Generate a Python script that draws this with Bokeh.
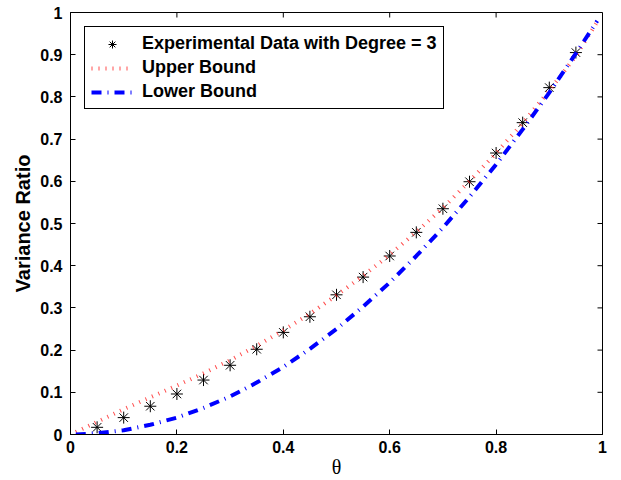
import math
from bokeh.plotting import figure
from bokeh.models import FixedTicker, Range1d
from bokeh.embed import file_html
from bokeh.resources import INLINE

# ---- data ----
theta_data = [0.05, 0.10, 0.15, 0.20, 0.25, 0.30, 0.35, 0.40, 0.45, 0.50,
              0.55, 0.60, 0.65, 0.70, 0.75, 0.80, 0.85, 0.90, 0.95]
ratio_data = [0.017, 0.040, 0.067, 0.096, 0.129, 0.164, 0.202, 0.242, 0.279, 0.331,
              0.373, 0.423, 0.479, 0.535, 0.599, 0.667, 0.739, 0.822, 0.905]

theta_curve = [0.01, 0.05, 0.10, 0.15, 0.20, 0.25, 0.30, 0.35, 0.40, 0.45, 0.50,
               0.55, 0.60, 0.65, 0.70, 0.75, 0.80, 0.85, 0.90, 0.95, 0.99]
upper_bound = [0.006, 0.030, 0.060, 0.088, 0.116, 0.145, 0.176, 0.210, 0.247, 0.286, 0.330,
               0.376, 0.426, 0.480, 0.537, 0.600, 0.667, 0.738, 0.815, 0.897, 0.978]
lower_bound = [0.000, 0.003, 0.010, 0.023, 0.040, 0.063, 0.090, 0.123, 0.160, 0.203, 0.250,
               0.303, 0.360, 0.423, 0.490, 0.563, 0.640, 0.723, 0.810, 0.903, 0.980]

x_ticks = [0, 0.2, 0.4, 0.6, 0.8, 1]
x_tick_labels = ["0", "0.2", "0.4", "0.6", "0.8", "1"]
y_ticks = [0, 0.1, 0.2, 0.3, 0.4, 0.5, 0.6, 0.7, 0.8, 0.9, 1]
y_tick_labels = ["0", "0.1", "0.2", "0.3", "0.4", "0.5", "0.6", "0.7", "0.8", "0.9", "1"]

FONT = "Liberation Sans"

p = figure(width=621, height=480, x_range=Range1d(0, 1), y_range=Range1d(0, 1),
           output_backend="svg", toolbar_location=None,
           min_border_left=70, min_border_right=19, min_border_top=12, min_border_bottom=44)
p.xgrid.visible = False
p.ygrid.visible = False
p.outline_line_color = "black"
p.outline_line_alpha = 1
p.outline_line_width = 1
p.background_fill_color = "white"
p.border_fill_color = "white"

p.scatter(theta_data, ratio_data, marker="asterisk", size=12, line_color="black",
          line_width=1, legend_label="Experimental Data with Degree = 3")
p.line(theta_curve, upper_bound, line_color="#ff2020", line_width=4, line_dash="1 6",
       line_alpha=0.8, legend_label="Upper Bound")
p.line(theta_curve, lower_bound, line_color="#0000ff", line_width=4, line_dash="10 6 1 6",
       legend_label="Lower Bound")

# mirrored inward ticks on the top and right edges of the box
p.ray(x=x_ticks, y=[1] * len(x_ticks), length=5, length_units="screen",
      angle=-math.pi / 2, line_color="black", line_width=1)
p.ray(x=[1] * len(y_ticks), y=y_ticks, length=5, length_units="screen",
      angle=math.pi, line_color="black", line_width=1)

for ax, ticks, labels in ((p.xaxis[0], x_ticks, x_tick_labels),
                          (p.yaxis[0], y_ticks, y_tick_labels)):
    ax.ticker = FixedTicker(ticks=ticks)
    ax.major_label_overrides = {t: l for t, l in zip(ticks, labels)}
    ax.major_tick_in = 5
    ax.major_tick_out = 0
    ax.minor_tick_in = 0
    ax.minor_tick_out = 0
    ax.axis_line_color = "black"
    ax.major_tick_line_color = "black"
    ax.major_label_text_font = FONT
    ax.major_label_text_font_style = "bold"
    ax.major_label_text_color = "black"
    ax.major_label_text_font_size = "16px"

p.xaxis[0].major_label_standoff = 6
p.yaxis[0].major_label_standoff = 8

p.xaxis[0].axis_label = "θ"
p.xaxis[0].axis_label_text_font = "Liberation Serif"
p.xaxis[0].axis_label_text_font_style = "normal"
p.xaxis[0].axis_label_text_font_size = "20px"
p.xaxis[0].axis_label_text_color = "black"
p.xaxis[0].axis_label_standoff = 0

p.yaxis[0].axis_label = "Variance Ratio"
p.yaxis[0].axis_label_text_font = FONT
p.yaxis[0].axis_label_text_font_style = "bold"
p.yaxis[0].axis_label_text_font_size = "20px"
p.yaxis[0].axis_label_text_color = "black"
p.yaxis[0].axis_label_standoff = 3

lg = p.legend[0]
lg.location = "top_left"
lg.margin = 14
lg.padding = 6
lg.spacing = 3
lg.label_height = 20
lg.glyph_height = 20
lg.glyph_width = 42
lg.label_standoff = 9
lg.border_line_color = "black"
lg.border_line_width = 1
lg.border_line_alpha = 1
lg.background_fill_color = "white"
lg.background_fill_alpha = 1
lg.label_text_font = FONT
lg.label_text_font_style = "bold"
lg.label_text_font_size = "18px"
lg.label_text_color = "black"

open("out.html", "w").write(file_html(p, INLINE))
